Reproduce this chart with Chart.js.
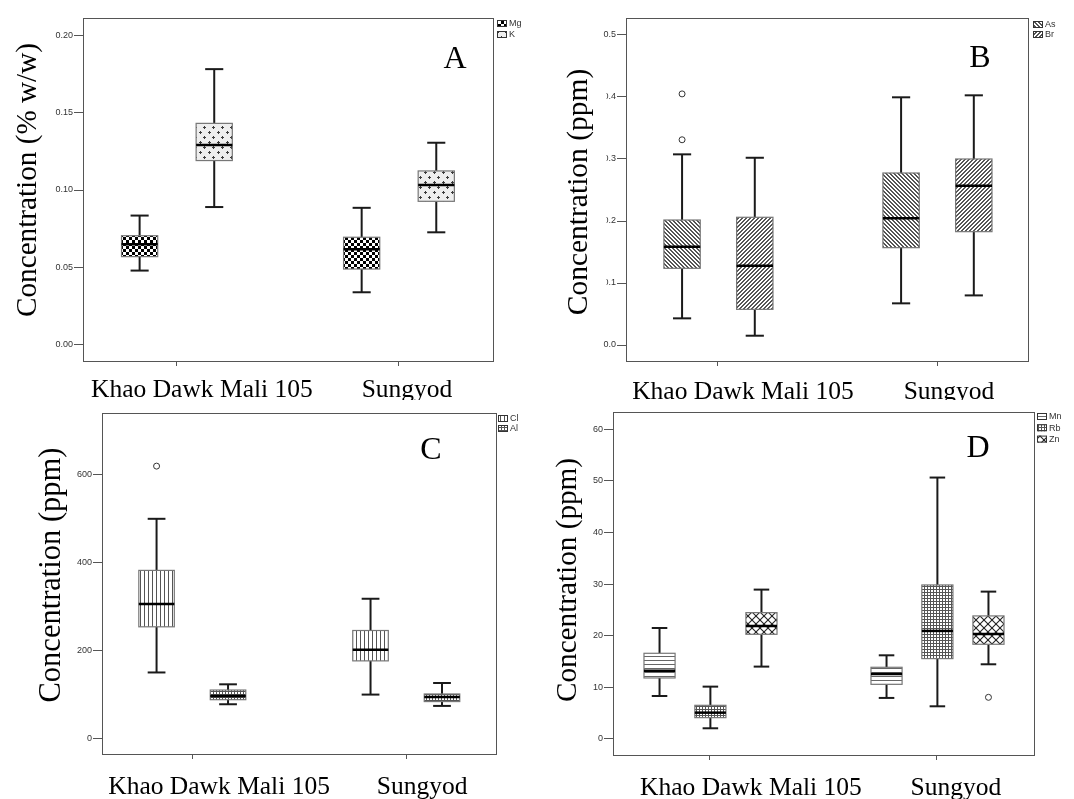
<!DOCTYPE html>
<html>
<head>
<meta charset="utf-8">
<script src="https://cdn.jsdelivr.net/npm/chart.js@4"></script>
<style>
  body { margin: 0; background: #fff; }
  #wrap { position: relative; width: 1074px; height: 799px; }
  canvas { position: absolute; }
</style>
</head>
<body>
<div id="wrap">
  <canvas id="cA" width="540" height="400" style="left:0;top:0"></canvas>
  <canvas id="cB" width="534" height="400" style="left:540px;top:0"></canvas>
  <canvas id="cC" width="540" height="399" style="left:0;top:400px"></canvas>
  <canvas id="cD" width="534" height="399" style="left:540px;top:400px"></canvas>
</div>
<script>
const categories = ['Khao Dawk Mali 105', 'Sungyod'];

// [min, q1, median, q3, max] for each category
const mgStats = [[0.048, 0.057, 0.065, 0.0705, 0.0835], [0.034, 0.049, 0.0617, 0.0695, 0.0885]];
const kStats = [[0.089, 0.119, 0.129, 0.143, 0.178], [0.0727, 0.0927, 0.1032, 0.1123, 0.1305]];
const asStats = [[0.043, 0.1237, 0.1586, 0.2016, 0.3075], [0.0672, 0.157, 0.2043, 0.2774, 0.3995]];
const brStats = [[0.015, 0.0575, 0.128, 0.206, 0.302], [0.080, 0.1828, 0.257, 0.300, 0.4027]];
const clStats = [[150, 254, 305.7, 382.5, 500], [99.6, 176.4, 201.5, 245.6, 317.9]];
const alStats = [[77.6, 88, 96.6, 110, 123], [73.8, 83.7, 94.3, 101, 126]];
const mnStats = [[8.33, 11.82, 13.24, 16.6, 21.5], [7.95, 10.59, 12.6, 13.89, 16.21]];
const rbStats = [[2.07, 4.13, 5.1, 6.52, 10.14], [6.33, 15.57, 20.93, 29.84, 50.65]];
const znStats = [[14.02, 20.28, 21.9, 24.48, 28.94], [14.47, 18.35, 20.35, 23.84, 28.55]];

// outliers per category
const asOutliers = [[0.331, 0.405], []];
const clOutliers = [[620], []];
const znOutliers = [[], [8.07]];

const ticksA = [0, 0.05, 0.10, 0.15, 0.20];
const ticksB = [0, 0.1, 0.2, 0.3, 0.4, 0.5];
const ticksC = [0, 200, 400, 600];
const ticksD = [0, 10, 20, 30, 40, 50, 60];

function makePattern(kind) {
  const c = document.createElement('canvas');
  const g = c.getContext('2d');
  const set = (w, h, bg) => { c.width = w; c.height = h; g.fillStyle = bg || '#fff'; g.fillRect(0, 0, w, h); };
  if (kind === 'checker') {
    set(6, 6);
    g.fillStyle = '#000';
    g.fillRect(0, 0, 3, 3); g.fillRect(3, 3, 3, 3);
  } else if (kind === 'plus') {
    set(9, 10, '#eeeeee');
    g.fillStyle = '#3a3a3a';
    g.fillRect(1, 2, 3, 1); g.fillRect(2, 1, 1, 3);
    g.fillRect(5, 7, 3, 1); g.fillRect(6, 6, 1, 3);
  } else if (kind === 'back' || kind === 'fwd') {
    set(4, 4);
    g.fillStyle = '#555';
    for (let i = 0; i < 4; i++) {
      const xx = kind === 'back' ? i : 3 - i;
      g.fillRect(xx, i, 1, 1);
      g.fillRect((xx + 1) % 4, i, 1, 1);
    }
  } else if (kind === 'vert') {
    set(4, 4);
    g.fillStyle = '#555';
    g.fillRect(0, 0, 1, 4);
  } else if (kind === 'horiz') {
    set(4, 4);
    g.fillStyle = '#666';
    g.fillRect(0, 0, 4, 1);
  } else if (kind === 'grid') {
    set(3, 3);
    g.fillStyle = '#555';
    g.fillRect(0, 0, 1, 3); g.fillRect(0, 0, 3, 1);
  } else if (kind === 'diamond') {
    set(8, 8);
    g.strokeStyle = '#222';
    g.lineWidth = 1.1;
    for (const o of [-8, 0, 8]) {
      g.beginPath(); g.moveTo(o - 1, -1); g.lineTo(o + 9, 9); g.stroke();
      g.beginPath(); g.moveTo(o + 9, -1); g.lineTo(o - 1, 9); g.stroke();
    }
  }
  return g.createPattern(c, 'repeat');
}

const panels = [
  {
    canvas: 'cA', letter: 'A', title: 'Concentration (% w/w)', ticks: ticksA, decimals: 2,
    series: [
      { name: 'Mg', stats: mgStats, pattern: 'checker' },
      { name: 'K', stats: kStats, pattern: 'plus' }
    ],
    ymin: -0.011, ymax: 0.211, xmin: 0.577, xmax: 2.428,
    offsets: [-0.168, 0.168], boxWidth: 0.163,
    area: { left: 83, top: 18, right: 494, bottom: 362 },
    titlePos: { x: 36, y: 180, size: 29.2 }, mask: null,
    letterPos: { x: 455, y: 68 },
    labelDx: [25, 8], labelY: 397,
    legend: { x: 497, y: 20, dy: 11 }
  },
  {
    canvas: 'cB', letter: 'B', title: 'Concentration (ppm)', ticks: ticksB, decimals: 1,
    series: [
      { name: 'As', stats: asStats, outliers: asOutliers, pattern: 'back' },
      { name: 'Br', stats: brStats, pattern: 'fwd' }
    ],
    ymin: -0.0274, ymax: 0.5274, xmin: 0.58, xmax: 2.42,
    offsets: [-0.164, 0.168], boxWidth: 0.166,
    area: { left: 86, top: 18, right: 489, bottom: 362 },
    titlePos: { x: 46.5, y: 192, size: 29.5 }, mask: { x: 0, y: 65, w: 66.5, h: 255 },
    letterPos: { x: 440, y: 67 },
    labelDx: [25, 12], labelY: 399,
    legend: { x: 493, y: 21, dy: 10 }
  },
  {
    canvas: 'cC', letter: 'C', title: 'Concentration (ppm)', ticks: ticksC, decimals: 0,
    series: [
      { name: 'Cl', stats: clStats, outliers: clOutliers, pattern: 'vert' },
      { name: 'Al', stats: alStats, pattern: 'grid' }
    ],
    ymin: -38, ymax: 741, xmin: 0.579, xmax: 2.425,
    offsets: [-0.166, 0.168], boxWidth: 0.166,
    area: { left: 102, top: 13, right: 497, bottom: 355 },
    titlePos: { x: 60, y: 175, size: 30.5 }, mask: null,
    letterPos: { x: 431, y: 59 },
    labelDx: [27, 16], labelY: 394,
    legend: { x: 498, y: 15, dy: 10 }
  },
  {
    canvas: 'cD', letter: 'D', title: 'Concentration (ppm)', ticks: ticksD, decimals: 0,
    series: [
      { name: 'Mn', stats: mnStats, pattern: 'horiz' },
      { name: 'Rb', stats: rbStats, pattern: 'grid' },
      { name: 'Zn', stats: znStats, outliers: znOutliers, pattern: 'diamond' }
    ],
    ymin: -3.3, ymax: 63.35, xmin: 0.573, xmax: 2.432,
    offsets: [-0.222, 0.002, 0.227], boxWidth: 0.137,
    area: { left: 73, top: 12, right: 495, bottom: 356 },
    titlePos: { x: 35.5, y: 180, size: 29.2 }, mask: { x: 0, y: 50, w: 53, h: 257 },
    letterPos: { x: 438, y: 57 },
    labelDx: [41, 19], labelY: 395,
    legend: { x: 497, y: 13, dy: 11.3 }
  }
];

function line(ctx, x1, y1, x2, y2) {
  ctx.beginPath(); ctx.moveTo(x1, y1); ctx.lineTo(x2, y2); ctx.stroke();
}

function boxPlugin(panel) {
  return {
    id: 'boxes' + panel.letter,
    afterDraw(chart) {
      const ctx = chart.ctx;
      const a = chart.chartArea;
      const xs = chart.scales.x, ys = chart.scales.y;
      ctx.save();

      // frame
      ctx.strokeStyle = '#555';
      ctx.lineWidth = 1;
      ctx.strokeRect(Math.round(a.left) + 0.5, Math.round(a.top) + 0.5,
        Math.round(a.right - a.left) - 1, Math.round(a.bottom - a.top) - 1);

      // boxes
      panel.series.forEach((s, si) => {
        const pat = makePattern(s.pattern);
        s.stats.forEach((st, ci) => {
          const cx = xs.getPixelForValue(ci + 1 + panel.offsets[si]);
          const half = (xs.getPixelForValue(panel.boxWidth) - xs.getPixelForValue(0)) / 2;
          const [pMin, pQ1, pMed, pQ3, pMax] = st.map(v => ys.getPixelForValue(v));
          ctx.strokeStyle = '#1a1a1a';
          ctx.lineWidth = 2;
          line(ctx, cx, pMax, cx, pQ3);
          line(ctx, cx, pQ1, cx, pMin);
          line(ctx, cx - half / 2, pMax, cx + half / 2, pMax);
          line(ctx, cx - half / 2, pMin, cx + half / 2, pMin);
          ctx.fillStyle = pat;
          ctx.fillRect(cx - half, pQ3, half * 2, pQ1 - pQ3);
          ctx.strokeStyle = '#777';
          ctx.lineWidth = 1.2;
          ctx.strokeRect(cx - half, pQ3, half * 2, pQ1 - pQ3);
          ctx.strokeStyle = '#000';
          ctx.lineWidth = 2.5;
          line(ctx, cx - half, pMed, cx + half, pMed);
          if (s.outliers) {
            s.outliers[ci].forEach(v => {
              ctx.beginPath();
              ctx.arc(cx, ys.getPixelForValue(v), 3, 0, Math.PI * 2);
              ctx.fillStyle = '#fff';
              ctx.fill();
              ctx.strokeStyle = '#333';
              ctx.lineWidth = 1;
              ctx.stroke();
            });
          }
        });

        // legend entry
        const ly = panel.legend.y + si * panel.legend.dy;
        ctx.fillStyle = pat;
        ctx.fillRect(panel.legend.x, ly, 10, 7);
        ctx.strokeStyle = '#333';
        ctx.lineWidth = 1;
        ctx.strokeRect(panel.legend.x + 0.5, ly + 0.5, 9, 6);
        ctx.fillStyle = '#333';
        ctx.font = '9px "Liberation Sans", Arial, sans-serif';
        ctx.textBaseline = 'middle';
        ctx.textAlign = 'left';
        ctx.fillText(s.name, panel.legend.x + 12, ly + 4);
      });

      // panel letter
      ctx.fillStyle = '#000';
      ctx.font = '32px "Liberation Serif", "Times New Roman", serif';
      ctx.textAlign = 'center';
      ctx.textBaseline = 'alphabetic';
      ctx.fillText(panel.letter, panel.letterPos.x, panel.letterPos.y);

      // category labels
      ctx.font = '25.5px "Liberation Serif", "Times New Roman", serif';
      categories.forEach((c, i) => {
        ctx.fillText(c, xs.getPixelForValue(i + 1) + panel.labelDx[i], panel.labelY);
      });

      // y title (pasted over a white box in the original)
      if (panel.mask) {
        ctx.fillStyle = '#fff';
        ctx.fillRect(panel.mask.x, panel.mask.y, panel.mask.w, panel.mask.h);
      }
      ctx.translate(panel.titlePos.x, panel.titlePos.y);
      ctx.rotate(-Math.PI / 2);
      ctx.fillStyle = '#000';
      ctx.font = panel.titlePos.size + 'px "Liberation Serif", "Times New Roman", serif';
      ctx.textAlign = 'center';
      ctx.fillText(panel.title, 0, 0);
      ctx.restore();
    }
  };
}

panels.forEach(panel => {
  const el = document.getElementById(panel.canvas);
  const W = el.width, H = el.height;
  new Chart(el, {
    type: 'scatter',
    data: {
      datasets: panel.series.map((s, si) => ({
        label: s.name,
        data: s.stats.map((st, ci) => ({ x: ci + 1 + panel.offsets[si], y: st[2] })),
        pointRadius: 0,
        showLine: false
      }))
    },
    options: {
      responsive: false,
      animation: false,
      events: [],
      layout: { padding: { left: 0, top: panel.area.top, right: W - panel.area.right, bottom: 0 } },
      plugins: { legend: { display: false }, tooltip: { enabled: false } },
      scales: {
        x: {
          type: 'linear',
          min: panel.xmin,
          max: panel.xmax,
          afterBuildTicks: s => { s.ticks = categories.map((c, i) => ({ value: i + 1 })); },
          afterFit: s => { s.height = H - panel.area.bottom; },
          ticks: { display: false },
          grid: { drawOnChartArea: false, tickLength: 4, color: '#555' },
          border: { display: false }
        },
        y: {
          type: 'linear',
          min: panel.ymin,
          max: panel.ymax,
          afterBuildTicks: s => { s.ticks = panel.ticks.map(v => ({ value: v })); },
          afterFit: s => { s.width = panel.area.left; },
          ticks: {
            callback: v => Number(v).toFixed(panel.decimals),
            font: { family: '"Liberation Sans", Arial, sans-serif', size: 9 },
            color: '#333',
            padding: 1
          },
          grid: { drawOnChartArea: false, tickLength: 9, color: '#555' },
          border: { display: false }
        }
      }
    },
    plugins: [boxPlugin(panel)]
  });
});
</script>
</body>
</html>
